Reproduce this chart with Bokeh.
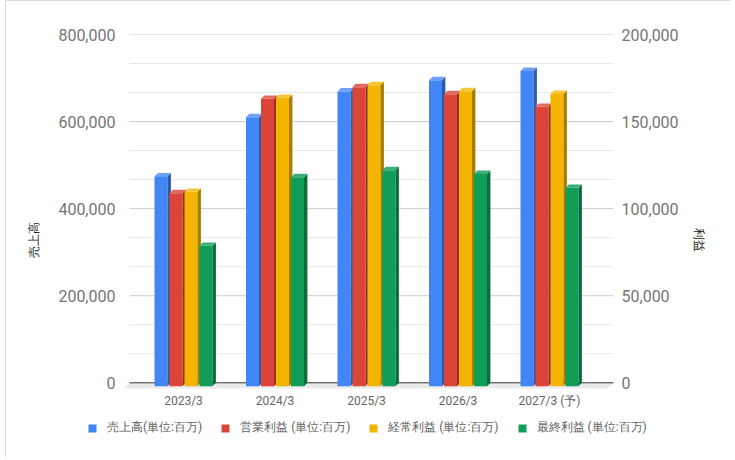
from bokeh.plotting import figure
from bokeh.models import (Range1d, LinearAxis, FixedTicker, Legend, LegendItem,
                          NumeralTickFormatter)
from bokeh.embed import file_html
from bokeh.resources import INLINE

# ---------------- data ----------------
categories = ["2023/3", "2024/3", "2025/3", "2026/3", "2027/3 (予)"]
sales = [482000, 618000, 677000, 703000, 724000]          # left axis
operating = [110800, 165000, 171700, 167700, 160400]      # right axis
ordinary = [111600, 165600, 172800, 169400, 167800]       # right axis
net = [80600, 120000, 124000, 121900, 113900]             # right axis
series_names = ["売上高(単位:百万)", "営業利益 (単位:百万)",
                "経常利益 (単位:百万)", "最終利益 (単位:百万)"]
left_ticks = [0, 200000, 400000, 600000, 800000]
right_ticks = [0, 50000, 100000, 150000, 200000]
left_title = "売上高"
right_title = "利益"

# ---------------- layout constants (pixels) ----------------
W, H = 726, 457
B_LEFT, B_RIGHT, B_TOP, B_BOTTOM = 80, 81, 34, 12
FRAME_W = W - B_LEFT - B_RIGHT
FRAME_H = H - B_TOP - B_BOTTOM
PITCH = 91.5            # px per category
FIRST_C = 98            # px from frame left to first category center
GRID_L, GRID_R = -54, 430   # gridline extent, px relative to first category center
ZERO_FROM_TOP = 348.3   # px from frame top to value 0
FLOOR_DEPTH = 5.7
BAR_W, BAR_STEP, BAR_OFF0, DEPTH = 13.0, 15.0, -29.0, 3.4
LEG_X, LEG_Y = 2, 9

FONT = "Roboto"
colors = {
    "front": ["#4285f4", "#db4437", "#f4b400", "#0f9d58"],
    "side":  ["#2c5bad", "#982e25", "#a87c00", "#0a6b3c"],
    "top":   ["#6f9ff6", "#e2695f", "#f6c535", "#3caf78"],
}

x_start = -FIRST_C / PITCH
x_end = (FRAME_W - FIRST_C) / PITCH
left_max, right_max = left_ticks[-1], right_ticks[-1]
left_start = left_max - FRAME_H * left_max / ZERO_FROM_TOP
right_start = right_max - FRAME_H * right_max / ZERO_FROM_TOP

p = figure(width=W, height=H, output_backend="svg", toolbar_location=None,
           x_range=Range1d(x_start, x_end), y_range=Range1d(left_start, left_max),
           min_border_left=B_LEFT, min_border_right=B_RIGHT,
           min_border_top=B_TOP, min_border_bottom=B_BOTTOM,
           outline_line_color=None, background_fill_color="white",
           border_fill_color="white", margin=(0, 0, 0, 5))
p.extra_y_ranges = {"right": Range1d(right_start, right_max)}
p.styles = {"outline": "1px solid #cfcfcf", "outline-offset": "-1px"}

def minors(ticks):
    out = []
    for a, b in zip(ticks[:-1], ticks[1:]):
        out += [a + (b - a) / 3, a + 2 * (b - a) / 3]
    return out

# axes
p.yaxis.ticker = FixedTicker(ticks=left_ticks)
p.yaxis.formatter = NumeralTickFormatter(format="0,0")
p.xaxis.ticker = FixedTicker(ticks=list(range(len(categories))))
p.xaxis.major_label_overrides = {i: c for i, c in enumerate(categories)}

raxis = LinearAxis(y_range_name="right", ticker=FixedTicker(ticks=right_ticks),
                   formatter=NumeralTickFormatter(format="0,0"))
p.add_layout(raxis, "right")

for ax in [p.yaxis[0], raxis]:
    ax.axis_line_color = None
    ax.major_tick_line_color = None
    ax.minor_tick_line_color = None
    ax.major_label_text_font = FONT
    ax.major_label_text_font_size = "16px"
    ax.major_label_text_color = "#757575"
    ax.axis_label_text_font = FONT
    ax.axis_label_text_font_size = "12px"
    ax.axis_label_text_font_style = "normal"
    ax.axis_label_text_color = "#222222"
p.yaxis[0].axis_label = left_title
p.yaxis[0].major_label_standoff = -36
p.yaxis[0].axis_label_standoff = 14
raxis.axis_label = right_title
raxis.major_label_standoff = -35
raxis.axis_label_standoff = 10

xa = p.xaxis[0]
xa.axis_line_color = None
xa.major_tick_line_color = None
xa.minor_tick_line_color = None
xa.major_label_text_font = FONT
xa.major_label_text_font_size = "12px"
xa.major_label_text_color = "#666666"
xa.major_label_standoff = -58

p.grid.visible = False

# unit conversions
px_x = 1.0 / PITCH
px_yl = left_max / ZERO_FROM_TOP
px_yr = right_max / ZERO_FROM_TOP
gx0, gx1 = GRID_L * px_x, GRID_R * px_x

# gridlines (limited to the chart's back wall)
mn = minors(left_ticks)
p.segment(x0=[gx0] * len(mn), y0=mn, x1=[gx1] * len(mn), y1=mn,
          line_color="#e8e8e8", line_width=1)
mj = left_ticks[1:]
p.segment(x0=[gx0] * len(mj), y0=mj, x1=[gx1] * len(mj), y1=mj,
          line_color="#cccccc", line_width=1)

# floor
fd_x = FLOOR_DEPTH * px_x
fd_y = FLOOR_DEPTH * px_yl
p.patch([gx0, gx1, gx1 - fd_x, gx0 - fd_x], [0, 0, -fd_y, -fd_y],
        color="#ebebeb", line_color=None)
p.segment(x0=[gx0], y0=[0], x1=[gx1], y1=[0], line_color="#333333", line_width=1)

series = [(sales, "default", px_yl), (operating, "right", px_yr),
          (ordinary, "right", px_yr), (net, "right", px_yr)]
fronts = []
for k, (vals, rng, pyu) in enumerate(series):
    off = (BAR_OFF0 + k * BAR_STEP) * px_x
    w = BAR_W * px_x
    dx = DEPTH * px_x
    dy = DEPTH * pyu
    lefts = [i + off for i in range(len(vals))]
    rights = [l + w for l in lefts]
    fr = p.quad(left=lefts, right=rights, bottom=[-dy] * len(vals),
                top=[v - dy for v in vals], y_range_name=rng,
                fill_color=colors["front"][k], line_color=None)
    fronts.append(fr)
    side_xs = [[r, r + dx, r + dx, r] for r in rights]
    side_ys = [[-dy, 0, v, v - dy] for v in vals]
    p.patches(side_xs, side_ys, y_range_name=rng,
              fill_color=colors["side"][k], line_color=None)
    top_xs = [[l, l + dx, r + dx, r] for l, r in zip(lefts, rights)]
    top_ys = [[v - dy, v, v, v - dy] for v in vals]
    p.patches(top_xs, top_ys, y_range_name=rng,
              fill_color=colors["top"][k], line_color=None)

legend = Legend(items=[LegendItem(label=n, renderers=[r]) for n, r in zip(series_names, fronts)],
                orientation="horizontal", location=(LEG_X, LEG_Y),
                glyph_width=10, glyph_height=10, label_standoff=10, spacing=18,
                border_line_color=None, background_fill_alpha=0,
                label_text_font=FONT, label_text_font_size="12px",
                label_text_color="#5f5f5f", padding=0, margin=0)
p.add_layout(legend, "center")

open("out.html", "w").write(file_html(p, INLINE))
